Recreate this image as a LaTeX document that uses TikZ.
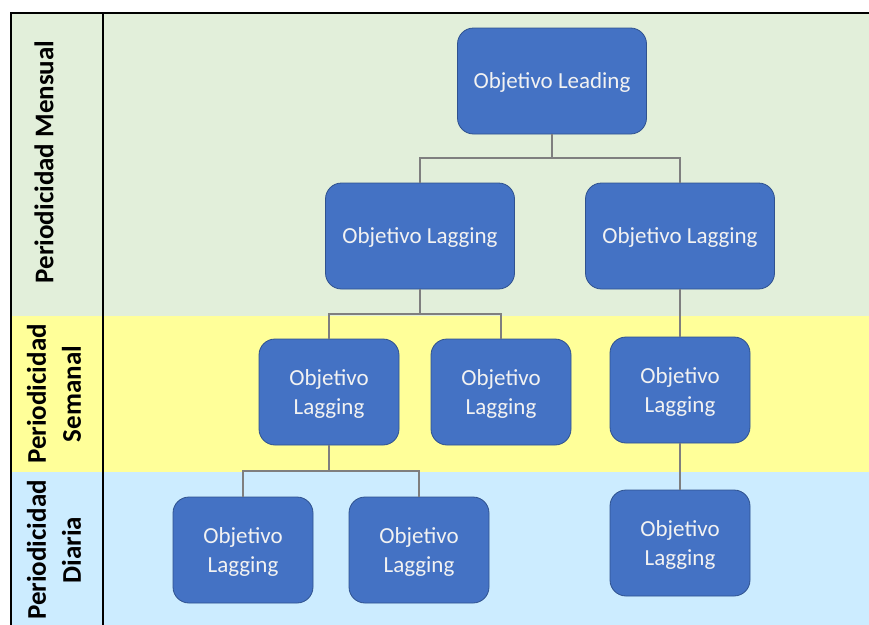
\documentclass[tikz,border=0pt]{standalone}
\usepackage{fontspec}
\setmainfont{Carlito}
\definecolor{bgGreen}{HTML}{E2EFDA}
\definecolor{bgYellow}{HTML}{FFFF99}
\definecolor{bgBlue}{HTML}{CCECFF}
\definecolor{boxFill}{HTML}{4472C4}
\definecolor{boxLine}{HTML}{2F528F}
\definecolor{conn}{HTML}{7F7F7F}
\begin{document}
\begin{tikzpicture}[x=1pt,y=-1pt,
  objbox/.style={draw=boxLine, line width=0.8pt, fill=boxFill, rounded corners=16pt,
    text=white!95!black, align=center, inner sep=0pt, text depth=0pt,
    font=\fontsize{23}{29}\selectfont},
  bigbox/.style={objbox, minimum width=189pt, minimum height=106pt},
  smallbox/.style={objbox, minimum width=140pt, minimum height=106pt},
  link/.style={draw=conn, line width=2.8pt},
  bandlabel/.style={rotate=90, align=center, font=\fontsize{27}{35}\selectfont\bfseries, inner sep=0pt},
  frameline/.style={draw=black, line width=2.2pt}
]
\useasboundingbox (0,0) rectangle (869,624);
\clip (0,0) rectangle (869,624);
\fill[white] (0,0) rectangle (869,624);
% bands
\fill[bgGreen] (11,13) rectangle (875,316);
\fill[bgYellow] (11,316) rectangle (875,472);
\fill[bgBlue] (11,472) rectangle (875,640);
% frame
\draw[frameline] (11,640) -- (11,13) -- (875,13);
\draw[frameline] (103,13) -- (103,640);
% band labels
\node[bandlabel] (lm) at (44,162) {Periodicidad Mensual};
\node[bandlabel] (ls) at (54,394) {Periodicidad\\Semanal};
\node[bandlabel] (ld) at (54,550) {Periodicidad\\Diaria};
% connectors
\coordinate (j0) at (552,158);
\coordinate (j1) at (420,314);
\coordinate (j2) at (329,471);
\coordinate (leadS) at (552,134);
\coordinate (m1N) at (420,183);
\coordinate (m2N) at (680,183);
% boxes
\node[bigbox] (lead) at (552,81) {Objetivo Leading};
\node[bigbox] (m1) at (420,236) {Objetivo Lagging};
\node[bigbox] (m2) at (680,236) {Objetivo Lagging};
\node[smallbox] (w1) at (329,392) {Objetivo\\Lagging};
\node[smallbox] (w2) at (501,392) {Objetivo\\Lagging};
\node[smallbox] (w3) at (680,390) {Objetivo\\Lagging};
\node[smallbox] (d1) at (243,550) {Objetivo\\Lagging};
\node[smallbox] (d2) at (419,550) {Objetivo\\Lagging};
\node[smallbox] (d3) at (680,543) {Objetivo\\Lagging};
\draw[link] (lead.south) -- (j0);
\draw[link] (m1.north) |- (j0) -| (m2.north);
\draw[link] (m1.south) -- (j1);
\draw[link] (w1.north) |- (j1) -| (w2.north);
\draw[link] (w1.south) -- (j2);
\draw[link] (d1.north) |- (j2) -| (d2.north);
\draw[link] (m2.south) -- (w3.north);
\draw[link] (w3.south) -- (d3.north);
\end{tikzpicture}
\end{document}
